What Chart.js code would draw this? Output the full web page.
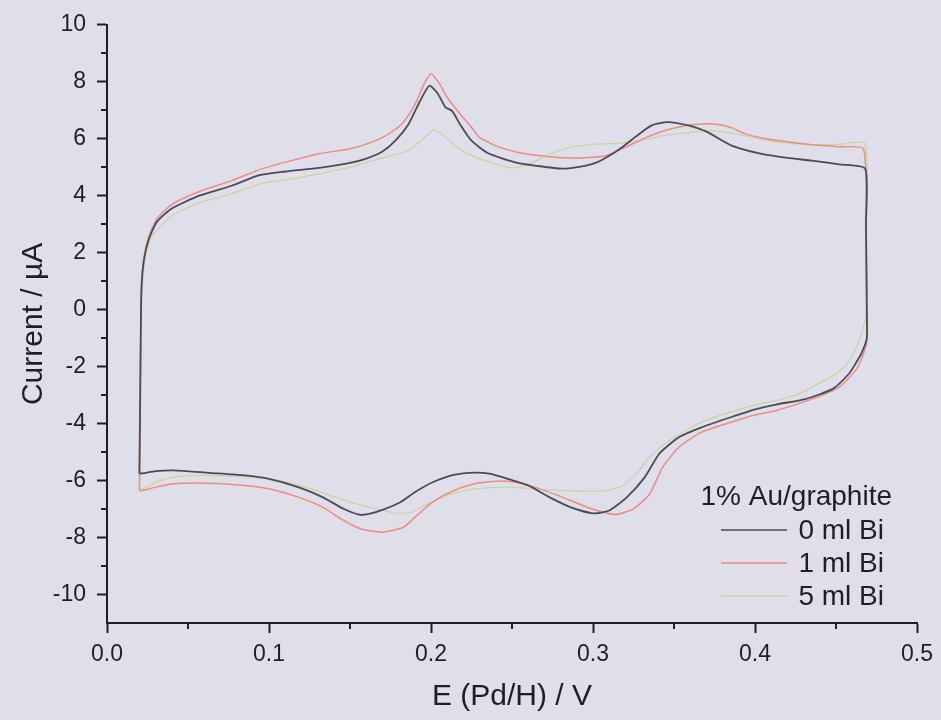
<!DOCTYPE html>
<html>
<head>
<meta charset="utf-8">
<script src="https://cdn.jsdelivr.net/npm/chart.js@4/dist/chart.umd.min.js"></script>
<style>
  html, body { margin: 0; padding: 0; background: #dfdfeb; }
  #wrap { width: 941px; height: 720px; position: relative; }
</style>
</head>
<body>
<div id="wrap"><canvas id="cv"></canvas></div>
<script>
// Cyclic voltammograms of 1% Au/graphite with increasing Bi additions.
// Each loop: anodic sweep left->right (upper branch), cathodic sweep back (lower branch).

const legendTitle = '1% Au/graphite';
const seriesLabels = ['0 ml Bi', '1 ml Bi', '5 ml Bi'];
const seriesColors = ['#4b4b58', '#f28a78', '#c9d59e'];

const xTickValues = [0, 0.1, 0.2, 0.3, 0.4, 0.5];
const xMinorTicks = [0.05, 0.15, 0.25, 0.35, 0.45];
const yMinorTicks = [-9, -7, -5, -3, -1, 1, 3, 5, 7, 9];

// 0 ml Bi
const potential0 = [
  0.020, 0.0205, 0.021, 0.0215, 0.023, 0.026, 0.031, 0.040, 0.057, 0.077, 0.094, 0.110, 0.131, 0.150, 0.160,
  0.170, 0.178, 0.186, 0.193, 0.199, 0.204, 0.209, 0.213, 0.218, 0.225, 0.235, 0.252, 0.265, 0.281, 0.295,
  0.302, 0.310, 0.318, 0.327, 0.336, 0.345, 0.351, 0.360, 0.370, 0.386, 0.404, 0.420, 0.435, 0.452, 0.468,
  0.4685, 0.469, 0.469,
  0.466, 0.462, 0.458, 0.448, 0.431, 0.413, 0.400, 0.388, 0.367, 0.353, 0.341, 0.332, 0.321, 0.310, 0.300,
  0.286, 0.273, 0.260, 0.249, 0.236, 0.227, 0.214, 0.201, 0.190, 0.181, 0.170, 0.163, 0.156, 0.146, 0.133,
  0.118, 0.100, 0.085, 0.063, 0.041, 0.030, 0.022, 0.020
];
const current0 = [
  -5.75, -3.0, 0.0, 1.0, 1.8, 2.5, 3.1, 3.55, 4.0, 4.35, 4.72, 4.85, 4.98, 5.15, 5.3,
  5.55, 5.93, 6.5, 7.3, 7.86, 7.6, 7.1, 6.98, 6.5, 5.93, 5.5, 5.17, 5.05, 4.95, 5.05,
  5.16, 5.4, 5.7, 6.1, 6.46, 6.58, 6.56, 6.45, 6.25, 5.75, 5.47, 5.33, 5.23, 5.1, 4.95,
  3.0, 0.0, -1.0,
  -1.5, -1.9, -2.25, -2.78, -3.14, -3.33, -3.5, -3.72, -4.13, -4.48, -5.05, -5.88, -6.58, -7.05, -7.15,
  -6.93, -6.58, -6.17, -5.97, -5.76, -5.72, -5.80, -6.06, -6.41, -6.76, -7.03, -7.15, -7.2, -6.99, -6.58,
  -6.23, -5.94, -5.82, -5.73, -5.64, -5.67, -5.75, -5.75
];

// 1 ml Bi
const potential1 = [
  0.020, 0.0205, 0.021, 0.0215, 0.023, 0.026, 0.031, 0.040, 0.057, 0.077, 0.096, 0.115, 0.131, 0.150, 0.160,
  0.172, 0.182, 0.190, 0.196, 0.200, 0.205, 0.210, 0.213, 0.219, 0.225, 0.230, 0.240, 0.254, 0.268, 0.281,
  0.295, 0.308, 0.320, 0.333, 0.345, 0.357, 0.374, 0.385, 0.394, 0.405, 0.415, 0.435, 0.452, 0.467,
  0.4685, 0.469, 0.469,
  0.466, 0.462, 0.452, 0.435, 0.413, 0.400, 0.388, 0.367, 0.353, 0.343, 0.335, 0.325, 0.314, 0.299,
  0.281, 0.264, 0.249, 0.238, 0.227, 0.214, 0.201, 0.190, 0.183, 0.170, 0.157, 0.146, 0.133,
  0.118, 0.100, 0.085, 0.063, 0.041, 0.030, 0.022, 0.020
];
const current1 = [
  -6.35, -3.0, 0.0, 1.1, 1.9, 2.6, 3.2, 3.7, 4.15, 4.53, 4.95, 5.25, 5.47, 5.65, 5.81,
  6.1, 6.52, 7.2, 7.95, 8.27, 7.95, 7.45, 7.22, 6.8, 6.4, 6.05, 5.75, 5.52, 5.4, 5.33,
  5.33, 5.4, 5.7, 6.05, 6.3, 6.46, 6.52, 6.4, 6.17, 6.02, 5.93, 5.79, 5.72, 5.64,
  3.0, 0.0, -1.1,
  -1.7, -2.14, -2.72, -3.14, -3.54, -3.7, -3.9, -4.3, -4.83, -5.53, -6.47, -6.99, -7.19, -6.99,
  -6.58, -6.23, -6.03, -6.03, -6.11, -6.35, -6.76, -7.29, -7.64, -7.81, -7.7, -7.4, -6.93,
  -6.58, -6.29, -6.17, -6.09, -6.11, -6.23, -6.35, -6.35
];

// 5 ml Bi
const potential5 = [
  0.020, 0.0205, 0.021, 0.022, 0.024, 0.028, 0.032, 0.040, 0.057, 0.077, 0.094, 0.115, 0.131, 0.150, 0.160,
  0.175, 0.186, 0.195, 0.202, 0.208, 0.215, 0.223, 0.235, 0.250, 0.260, 0.271, 0.281, 0.291, 0.305, 0.316,
  0.330, 0.343, 0.360, 0.374, 0.385, 0.394, 0.415, 0.435, 0.452, 0.468,
  0.4685, 0.469, 0.4685,
  0.466, 0.462, 0.457, 0.450, 0.443, 0.427, 0.413, 0.400, 0.388, 0.367, 0.347, 0.336, 0.326, 0.318, 0.308,
  0.292, 0.270, 0.249, 0.227, 0.212, 0.198, 0.188, 0.179, 0.166, 0.150, 0.129, 0.107, 0.089, 0.063,
  0.041, 0.030, 0.022, 0.020
];
const current5 = [
  -6.3, -3.0, 0.0, 1.0, 2.0, 2.6, 2.85, 3.3, 3.75, 4.07, 4.41, 4.6, 4.77, 5.0, 5.17,
  5.4, 5.58, 6.0, 6.31, 6.1, 5.75, 5.46, 5.2, 4.98, 5.1, 5.4, 5.62, 5.75, 5.82, 5.84,
  5.95, 6.1, 6.22, 6.28, 6.2, 6.1, 5.87, 5.79, 5.8, 5.84,
  3.0, 0.5, -0.2,
  -0.8, -1.4, -1.9, -2.25, -2.49, -2.96, -3.19, -3.35, -3.54, -3.95, -4.6, -5.1, -5.8, -6.2, -6.35,
  -6.37, -6.32, -6.23, -6.29, -6.47, -6.82, -7.11, -7.15, -6.99, -6.76, -6.35, -6.0, -5.88, -5.82,
  -5.88, -6.06, -6.3, -6.3
];

const toPoints = (xs, ys) => xs.map((x, i) => ({ x: x, y: ys[i] }));
const loops = [
  toPoints(potential0, current0),
  toPoints(potential1, current1),
  toPoints(potential5, current5)
];
const lineWidths = [1.8, 1.5, 1.3];

const inkColor = '#1e1e24';
const FONT = 'Liberation Sans, Arial, Helvetica, sans-serif';

// Short minor tick marks on both axes
const minorTicks = {
  id: 'minorTicks',
  afterDraw(chart) {
    const { ctx, scales: { x, y } } = chart;
    ctx.save();
    ctx.strokeStyle = inkColor;
    ctx.lineWidth = 2;
    xMinorTicks.forEach(v => {
      const px = Math.round(x.getPixelForValue(v));
      ctx.beginPath();
      ctx.moveTo(px, y.bottom);
      ctx.lineTo(px, y.bottom + 6);
      ctx.stroke();
    });
    yMinorTicks.forEach(v => {
      const py = Math.round(y.getPixelForValue(v));
      ctx.beginPath();
      ctx.moveTo(x.left, py);
      ctx.lineTo(x.left - 6, py);
      ctx.stroke();
    });
    ctx.restore();
  }
};

// Legend block in the lower right corner of the plot area
const cornerLegend = {
  id: 'cornerLegend',
  afterDraw(chart) {
    const { ctx, chartArea: a } = chart;
    ctx.save();
    ctx.fillStyle = inkColor;
    ctx.textAlign = 'right';
    ctx.textBaseline = 'alphabetic';
    ctx.font = '28px ' + FONT;
    ctx.fillText(legendTitle, a.right - 25, a.bottom - 118);
    chart.data.datasets.forEach((ds, i) => {
      const base = a.bottom - 84 + i * 33;
      ctx.fillStyle = inkColor;
      ctx.fillText(ds.label, a.right - 33, base);
      ctx.strokeStyle = ds.borderColor;
      ctx.lineWidth = 1.3;
      ctx.beginPath();
      ctx.moveTo(a.right - 196, base - 9);
      ctx.lineTo(a.right - 130, base - 9);
      ctx.stroke();
    });
    ctx.restore();
  }
};

new Chart(document.getElementById('cv'), {
  type: 'scatter',
  data: {
    datasets: loops.map((pts, i) => ({
      label: seriesLabels[i],
      data: pts,
      showLine: true,
      borderColor: seriesColors[i],
      backgroundColor: seriesColors[i],
      borderWidth: lineWidths[i],
      pointRadius: 0,
      tension: 0.2,
      fill: false
    }))
  },
  options: {
    responsive: true,
    maintainAspectRatio: false,
    animation: false,
    events: [],
    layout: { padding: { top: 24, right: 23, left: 0, bottom: 0 } },
    plugins: { legend: { display: false }, tooltip: { enabled: false } },
    scales: {
      x: {
        type: 'linear',
        min: 0,
        max: 0.5,
        afterBuildTicks: s => { s.ticks = xTickValues.map(v => ({ value: v })); },
        afterFit: s => { s.height = 97; },
        ticks: {
          callback: v => Number(v).toFixed(1),
          font: { family: FONT, size: 23 },
          color: inkColor,
          padding: 8,
          maxRotation: 0
        },
        grid: { drawOnChartArea: false, drawTicks: true, tickLength: 10, tickColor: inkColor, tickWidth: 2 },
        border: { display: true, color: inkColor, width: 2 },
        title: {
          display: true,
          text: 'E (Pd/H) / V',
          font: { family: FONT, size: 30 },
          color: inkColor,
          padding: { top: 0, bottom: 5 }
        }
      },
      y: {
        type: 'linear',
        min: -11,
        max: 10,
        afterFit: s => { s.width = 107; },
        ticks: {
          stepSize: 2,
          includeBounds: false,
          font: { family: FONT, size: 23 },
          color: inkColor,
          padding: 11
        },
        grid: { drawOnChartArea: false, drawTicks: true, tickLength: 10, tickColor: inkColor, tickWidth: 2 },
        border: { display: true, color: inkColor, width: 2 },
        title: {
          display: true,
          text: 'Current / µA',
          font: { family: FONT, size: 30 },
          color: inkColor,
          padding: { top: 16, bottom: 0 }
        }
      }
    }
  },
  plugins: [minorTicks, cornerLegend]
});
</script>
</body>
</html>
